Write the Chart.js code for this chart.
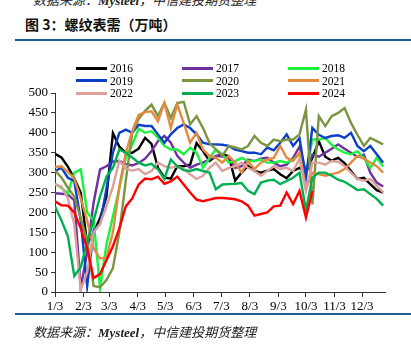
<!DOCTYPE html>
<html>
<head>
<meta charset="utf-8">
<script src="https://cdn.jsdelivr.net/npm/chart.js@4.4.1/dist/chart.umd.min.js"></script>
<style>
  body { margin: 0; background: #fff; }
  #page { position: relative; width: 411px; height: 347px; overflow: hidden; }
  .source { position: absolute; left: 33px; font: italic 13px "Noto Sans CJK SC", sans-serif; color: #222; white-space: nowrap; line-height: 14px; }
  .source b { font-family: "Liberation Serif", serif; }
  #srcTop { top: -7px; }
  #srcBottom { top: 325px; }
  #title { position: absolute; left: 25px; top: 15px; font: bold 14px "Noto Sans CJK SC", sans-serif; color: #111; white-space: nowrap; line-height: 18px; }
  .rule { position: absolute; left: 15px; width: 396px; height: 2px; background: #1f5a93; }
  #chart { position: absolute; left: 0; top: 45px; }
  .leg { position: absolute; display: flex; align-items: center; height: 12px; font: 11.5px "Liberation Serif", serif; color: #000; }
  .leg i { display: inline-block; width: 31px; height: 3px; margin-right: 3px; }
</style>
</head>
<body>
<div id="page">
  <div class="source" id="srcTop">数据来源：<b>Mysteel</b>，中信建投期货整理</div>
  <div id="title">图 3：螺纹表需（万吨）</div>
  <div class="rule" style="top:39px"></div>
  <canvas id="chart" width="411" height="270"></canvas>
  <div id="legend"></div>
  <div class="rule" style="top:313px"></div>
  <div class="source" id="srcBottom">数据来源：<b>Mysteel</b>，中信建投期货整理</div>
</div>
<script>
// weekly apparent demand of rebar, 10k tonnes
const YEARS = ['2016', '2017', '2018', '2019', '2020', '2021', '2022', '2023', '2024'];
const COLORS = ['#000000', '#7030a0', '#19f53c', '#0b3fc8', '#7a9440', '#e38a3f', '#dca09b', '#00b050', '#ff0000'];

const MONTH_DAYS = [0, 31, 59, 90, 120, 151, 181, 212, 243, 273, 304, 334];
const MONTH_LABELS = ['1/3', '2/3', '3/3', '4/3', '5/3', '6/3', '7/3', '8/3', '9/3', '10/3', '11/3', '12/3'];

const D2016 = [347,338,315,285,250,120,150,185,240,399,365,350,350,360,387,372,312,288,285,316,316,320,374,354,329,341,346,341,280,300,317,304,300,305,309,296,286,304,312,300,337,379,340,330,337,324,304,284,287,271,256,250];
const D2017 = [248,247,245,230,10,100,225,308,316,328,329,322,318,324,335,354,379,392,375,342,325,312,320,325,333,342,340,337,312,316,333,329,335,337,325,316,320,337,365,300,345,340,350,360,371,360,350,340,345,300,275,265];
const D2018 = [272,262,248,300,308,200,180,10,120,190,260,337,370,410,400,404,388,367,358,358,346,363,350,312,337,358,346,325,329,337,329,329,333,325,325,329,325,333,346,296,383,383,387,370,358,350,346,354,337,312,337,315];
const D2019 = [304,312,287,279,180,15,155,171,260,350,400,408,400,420,417,417,396,375,396,412,421,412,396,375,371,371,370,367,358,354,350,350,346,363,356,375,396,367,387,287,412,395,387,392,394,387,400,367,354,367,346,325];
const D2020 = [305,288,262,240,185,129,15,12,30,60,150,280,400,435,455,471,442,475,437,475,478,421,442,412,375,358,342,367,363,358,367,392,375,367,383,379,383,383,396,458,220,442,417,442,450,462,425,395,367,387,379,371];
const D2021 = [314,316,302,285,235,180,110,84,86,150,265,350,404,445,452,454,429,475,412,471,425,375,400,358,342,337,325,342,325,300,329,309,325,333,337,367,337,329,350,260,300,296,292,296,300,309,325,342,335,325,316,300];
const D2022 = [270,265,235,170,5,50,150,171,215,265,330,310,305,309,296,304,325,316,312,316,309,296,284,292,312,325,304,312,316,325,312,304,292,304,316,309,312,304,335,254,325,325,320,329,327,316,300,284,280,284,267,250];
const D2023 = [215,180,140,40,62,125,180,240,290,312,358,350,338,325,318,322,308,284,333,316,306,304,309,304,300,258,270,271,272,274,254,246,275,280,282,271,279,287,300,205,287,300,300,292,282,277,267,256,258,246,234,217];
const D2024 = [228,218,217,200,160,110,35,45,80,115,160,215,235,270,285,283,290,272,278,290,270,250,232,228,232,236,236,235,233,228,217,192,196,200,215,217,250,221,254,187,254];

const SERIES = [D2016, D2017, D2018, D2019, D2020, D2021, D2022, D2023, D2024];

// legend, 3 columns
const legend = document.getElementById('legend');
const LEG_X = [76, 182, 288];
const LEG_Y = [62, 74.5, 87];
YEARS.forEach((y, i) => {
  const el = document.createElement('div');
  el.className = 'leg';
  el.style.left = LEG_X[i % 3] + 'px';
  el.style.top = LEG_Y[Math.floor(i / 3)] + 'px';
  el.innerHTML = `<i style="background:${COLORS[i]}"></i>${y}`;
  legend.appendChild(el);
});

const tickFont = { family: 'Liberation Serif', size: 13 };

new Chart(document.getElementById('chart'), {
  type: 'line',
  data: {
    datasets: SERIES.map((vals, i) => ({
      label: YEARS[i],
      data: vals.map((v, w) => ({ x: w * 7, y: v })),
      borderColor: COLORS[i],
      backgroundColor: COLORS[i],
      borderWidth: 2.4,
      pointRadius: 0,
      tension: 0,
      order: YEARS.length - 1 - i
    }))
  },
  options: {
    responsive: false,
    animation: false,
    layout: { padding: { top: 48, right: 26, left: 0, bottom: 0 } },
    plugins: { legend: { display: false }, tooltip: { enabled: false } },
    scales: {
      x: {
        type: 'linear',
        min: 0,
        max: 359,
        afterBuildTicks: (s) => { s.ticks = MONTH_DAYS.map(v => ({ value: v })); },
        afterFit: (s) => { s.height = 23; },
        ticks: {
          autoSkip: false,
          maxRotation: 0,
          color: '#000',
          font: tickFont,
          padding: 2,
          callback: (v, i) => MONTH_LABELS[i]
        },
        grid: { drawOnChartArea: false, drawTicks: true, tickLength: 5, color: '#333' },
        border: { color: '#333', width: 1 }
      },
      y: {
        min: 0,
        max: 500,
        afterFit: (s) => { s.width = 55; },
        ticks: { stepSize: 50, color: '#000', font: tickFont, padding: 3 },
        grid: { drawOnChartArea: false, drawTicks: true, tickLength: 4, color: '#333' },
        border: { color: '#333', width: 1 }
      }
    }
  }
});
</script>
</body>
</html>
